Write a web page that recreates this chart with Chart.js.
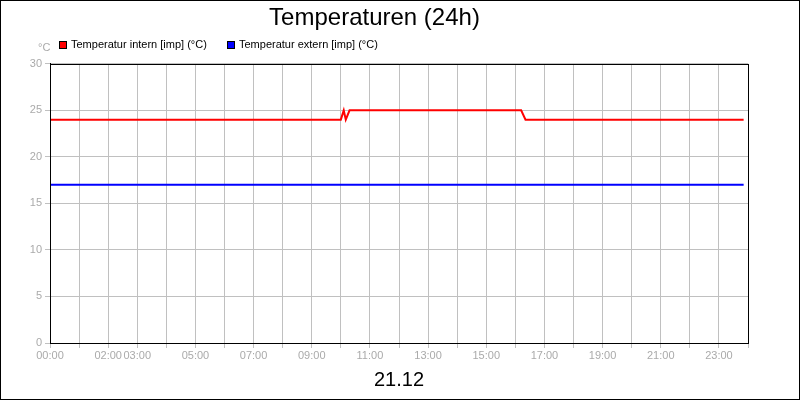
<!DOCTYPE html>
<html><head><meta charset="utf-8">
<script src="https://cdn.jsdelivr.net/npm/chart.js@4"></script>
<style>body{margin:0;background:#fff}#w{width:798px;height:398px;border:1px solid #000;position:relative}</style>
</head><body><div id="w"><canvas id="c" width="798" height="398"></canvas></div>
<script>
const hours = [0,1,2,3,4,5,6,7,8,9,10,11,12,13,14,15,16,17,18,19,20,21,22,23,24];
const shownLabels = ["00:00","02:00","03:00","05:00","07:00","09:00","11:00","13:00","15:00","17:00","19:00","21:00","23:00"];
const internX = [0, 10.0, 10.1, 10.17, 10.3, 16.2, 16.35, 23.85];
const internY = [24, 24, 25, 24, 25, 25, 24, 24];
const externX = [0, 23.85];
const externY = [17, 17];
const yTicks = [0,5,10,15,20,25,30];
const F = "'Liberation Sans', Arial, sans-serif";
const extras = {
  id:'extras',
  afterDraw(ch){
    const c=ch.ctx, a=ch.chartArea;
    c.save();
    c.strokeStyle='#000';c.lineWidth=1;
    c.strokeRect(Math.round(a.left)+0.5,Math.round(a.top)+0.5,Math.round(a.right-a.left),Math.round(a.bottom-a.top));
    c.font="11px "+F;c.fillStyle='#aaa';c.textBaseline='middle';c.textAlign='left';
    c.fillText('°C',37,47);
    const items=[['#ff0000','Temperatur intern [imp] (°C)',58],['#0000ff','Temperatur extern [imp] (°C)',226]];
    items.forEach(([col,t,x])=>{c.fillStyle=col;c.fillRect(x,40,8,8);c.strokeStyle='#000';c.strokeRect(x+0.5,40.5,7,7);c.fillStyle='#000';c.fillText(t,x+12,44);});
    c.font="20px "+F;c.textAlign='center';c.fillStyle='#000';c.fillText('21.12',398,379);
    c.restore();
  }
};
new Chart(document.getElementById('c'),{
  type:'line',
  data:{datasets:[
    {data:internX.map((x,i)=>({x,y:internY[i]})),borderColor:'#ff0000',borderWidth:2,pointRadius:0,tension:0},
    {data:externX.map((x,i)=>({x,y:externY[i]})),borderColor:'#0000ff',borderWidth:2,pointRadius:0,tension:0}
  ]},
  plugins:[extras],
  options:{responsive:false,animation:false,
    layout:{padding:{left:0,right:51,top:0,bottom:36}},
    plugins:{legend:{display:false},tooltip:{enabled:false},
      title:{display:true,text:'Temperaturen (24h)',color:'#000',font:{family:F,size:24,weight:'normal'},padding:{top:3,bottom:31}}},
    scales:{
      x:{type:'linear',min:0,max:24,
        afterBuildTicks(s){s.ticks=hours.map(v=>({value:v}));},
        afterFit(s){s.height=20;},
        ticks:{autoSkip:false,maxRotation:0,color:'#aaa',font:{family:F,size:11},padding:1,
          callback(v){const l=String(v).padStart(2,'0')+':00';return shownLabels.includes(l)?l:'';}},
        grid:{color:'#c0c0c0',tickLength:5,tickColor:'#c0c0c0'},border:{color:'#000'}},
      y:{min:0,max:30,
        afterBuildTicks(s){s.ticks=yTicks.map(v=>({value:v}));},
        afterFit(s){s.width=49;},
        ticks:{color:'#aaa',font:{family:F,size:11},padding:3},
        grid:{color:'#c0c0c0',tickLength:5,tickColor:'#c0c0c0'},border:{color:'#000'}}
    }}
});
</script></body></html>
